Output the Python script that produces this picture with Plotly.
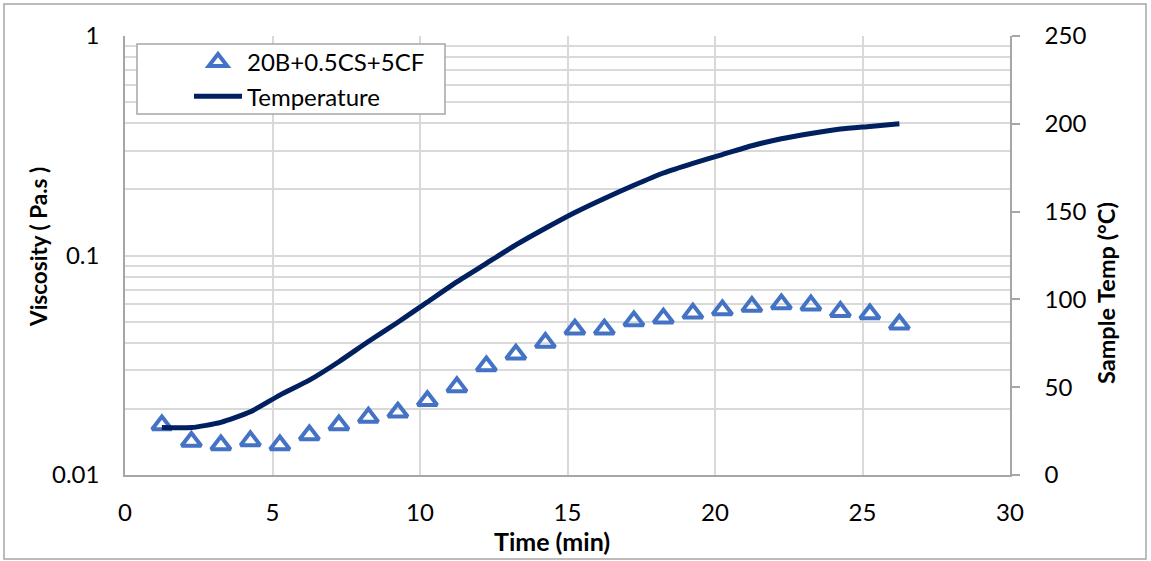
import plotly.graph_objects as go

time_min = [1.25, 2.25, 3.25, 4.25, 5.25, 6.25, 7.25, 8.25, 9.25, 10.25, 11.25, 12.25, 13.25,
            14.25, 15.25, 16.25, 17.25, 18.25, 19.25, 20.25, 21.25, 22.25, 23.25, 24.25, 25.25, 26.25]
viscosity = [0.0169, 0.0142, 0.0137, 0.0143, 0.0137, 0.0152, 0.0169, 0.0183, 0.0193, 0.0218,
             0.0252, 0.0314, 0.0355, 0.0401, 0.0461, 0.0461, 0.0503, 0.0518, 0.0545, 0.0565,
             0.0585, 0.0601, 0.0594, 0.0555, 0.0541, 0.0486]
temperature = [27, 27, 30, 36, 45.5, 54, 64.5, 76, 87, 98.5, 110, 120.5, 131, 140.5, 149.5,
               157.5, 165, 172, 177.5, 182.5, 187.5, 191.5, 194.5, 197, 198.5, 200]

x_ticks = [0, 5, 10, 15, 20, 25, 30]
visc_ticks = [0.01, 0.1, 1]
visc_tick_text = ["0.01", "0.1", "1"]
temp_ticks = [0, 50, 100, 150, 200, 250]

FONT = "Lato, Open Sans, sans-serif"
GRID = "#d9d9d9"
AXIS = "#a6a6a6"

fig = go.Figure()
fig.add_trace(go.Scatter(
    x=time_min, y=viscosity, name="20B+0.5CS+5CF", mode="markers",
    marker=dict(symbol="triangle-up-open", size=17, color="#4472C4",
                line=dict(width=4, color="#4472C4")),
    yaxis="y"))
fig.add_trace(go.Scatter(
    x=time_min, y=temperature, name="Temperature", mode="lines",
    line=dict(color="#002060", width=5, shape="spline", smoothing=0.6),
    yaxis="y2"))

L, R, T, B = 125, 141, 36, 86
W, H = 1151, 561
pw, ph = W - L - R, H - T - B


def px(x):
    return (x - L) / pw


def py(y):
    return (T + ph - y) / ph


fig.update_layout(
    width=W, height=H,
    margin=dict(l=L, r=R, t=T, b=B, pad=0, autoexpand=False),
    paper_bgcolor="white", plot_bgcolor="white",
    font=dict(family=FONT, size=24, color="black"),
    showlegend=True,
    legend=dict(x=px(189), y=py(40), xanchor="left", yanchor="top",
                bgcolor="rgba(0,0,0,0)", borderwidth=0,
                font=dict(size=24), tracegroupgap=0, itemwidth=48),
    xaxis=dict(range=[0, 30], tickvals=x_ticks, showgrid=True, gridcolor=GRID, gridwidth=1.5,
               showline=True, linecolor=AXIS, linewidth=1.5, ticks="", zeroline=False,
               ticklabelstandoff=15),
    yaxis=dict(type="log", range=[-2, 0], tickvals=visc_ticks, ticktext=visc_tick_text,
               showgrid=True, gridcolor=GRID, gridwidth=1.5,
               minor=dict(dtick="D1", showgrid=True, gridcolor=GRID, gridwidth=1.5, ticks=""),
               showline=True, linecolor=AXIS, linewidth=1.5, ticks="", zeroline=False,
               ticklabelstandoff=19),
    yaxis2=dict(overlaying="y", side="right", range=[0, 250], tickvals=temp_ticks,
                showgrid=False, zeroline=False, showline=True, linecolor=AXIS, linewidth=1.5,
                ticks="outside", ticklen=8, tickcolor=AXIS, tickwidth=1.5,
                ticklabelstandoff=20),
)

# axis titles
fig.add_annotation(text="<b>Time (min)</b>", xref="paper", yref="paper", x=px(552), y=py(541),
                   xanchor="center", yanchor="middle", showarrow=False, font=dict(size=25))
fig.add_annotation(text="<b>Viscosity ( Pa.s )</b>", xref="paper", yref="paper", x=px(39),
                   y=py(247), xanchor="center", yanchor="middle", showarrow=False,
                   textangle=-90, font=dict(size=22.5))
fig.add_annotation(text="<b>Sample Temp (°C)</b>", xref="paper", yref="paper", x=px(1106),
                   y=py(293), xanchor="center", yanchor="middle", showarrow=False,
                   textangle=-90, font=dict(size=23.5))

# legend box
fig.add_shape(type="rect", xref="paper", yref="paper",
              x0=px(137), x1=px(445), y0=py(114), y1=py(44),
              line=dict(color=AXIS, width=1.5), fillcolor="white", layer="above")

# outer chart border
fig.add_shape(type="rect", xref="paper", yref="paper",
              x0=px(4), x1=px(1146), y0=py(559), y1=py(4),
              line=dict(color=AXIS, width=1.5), fillcolor="rgba(0,0,0,0)", layer="below")

fig.write_html("out.html", config={"displayModeBar": False},
               post_script="document.body.style.margin='0';document.body.style.overflow='hidden';")
